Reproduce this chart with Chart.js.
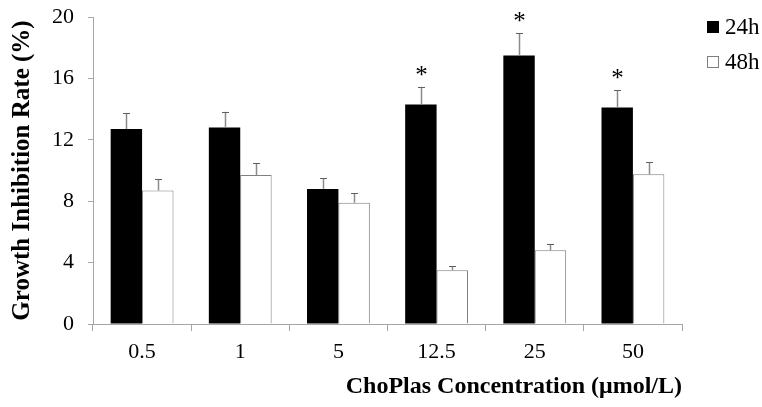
<!DOCTYPE html>
<html>
<head>
<meta charset="utf-8">
<script src="https://cdn.jsdelivr.net/npm/chart.js@4/dist/chart.umd.min.js"></script>
<style>
  html, body { margin: 0; padding: 0; background: #fff; }
  #wrap { width: 762px; height: 407px; position: relative; }
</style>
</head>
<body>
<div id="wrap"><canvas id="c"></canvas></div>
<script>
const categories = ['0.5', '1', '5', '12.5', '25', '50'];
const seriesLabels = ['24h', '48h'];
const rate24 = [12.7, 12.8, 8.8, 14.3, 17.5, 14.1];
const rate48 = [8.7, 9.7, 7.9, 3.5, 4.8, 9.75];
const err24 = [1.03, 1.02, 0.7, 1.15, 1.44, 1.13];
const err48 = [0.72, 0.78, 0.63, 0.28, 0.41, 0.78];
const sig24 = [false, false, false, true, true, true];
const yTicks = [0, 4, 8, 12, 16, 20];

const SERIF = '"Liberation Serif", "Times New Roman", serif';
const AXIS = '#a6a6a6';

const errorBarPlugin = {
  id: 'errorBars',
  afterDatasetsDraw(chart) {
    const ctx = chart.ctx;
    const y = chart.scales.y;
    const errs = [err24, err48];
    ctx.save();
    chart.data.datasets.forEach((ds, di) => {
      const meta = chart.getDatasetMeta(di);
      meta.data.forEach((bar, i) => {
        const v = ds.data[i];
        const top = y.getPixelForValue(v + errs[di][i]);
        const base = y.getPixelForValue(v);
        const x = Math.round(bar.x) + 0.5;
        ctx.strokeStyle = '#8a8a8a';
        ctx.lineWidth = 1.5;
        ctx.beginPath();
        ctx.moveTo(x, base);
        ctx.lineTo(x, top);
        ctx.stroke();
        ctx.strokeStyle = '#606060';
        ctx.lineWidth = 1;
        ctx.beginPath();
        ctx.moveTo(x - 3.5, Math.round(top) + 0.5);
        ctx.lineTo(x + 3.5, Math.round(top) + 0.5);
        ctx.stroke();
        if (di === 0 && sig24[i]) {
          ctx.fillStyle = '#000';
          ctx.font = '25px ' + SERIF;
          ctx.textAlign = 'center';
          ctx.textBaseline = 'alphabetic';
          ctx.fillText('*', x, top - 4);
        }
      });
    });
    ctx.restore();
  }
};

const legendPlugin = {
  id: 'sideLegend',
  afterDraw(chart) {
    const ctx = chart.ctx;
    const x0 = chart.chartArea.right + 25;
    ctx.save();
    chart.data.datasets.forEach((ds, i) => {
      const cy = 27 + i * 35;
      ctx.fillStyle = ds.backgroundColor;
      ctx.fillRect(x0, cy - 6, 12, 12);
      if (ds.borderWidth) {
        ctx.strokeStyle = ds.borderColor;
        ctx.lineWidth = 1;
        ctx.strokeRect(x0 + 0.5, cy - 5.5, 11, 11);
      }
      ctx.fillStyle = '#000';
      ctx.font = '23px ' + SERIF;
      ctx.textAlign = 'left';
      ctx.textBaseline = 'middle';
      ctx.fillText(ds.label, x0 + 18, cy + 1);
    });
    ctx.restore();
  }
};

new Chart(document.getElementById('c'), {
  type: 'bar',
  data: {
    labels: categories,
    datasets: [
      { label: seriesLabels[0], data: rate24, backgroundColor: '#000000', borderColor: '#000000', borderWidth: 0 },
      { label: seriesLabels[1], data: rate48, backgroundColor: '#ffffff', borderColor: '#7f7f7f', borderWidth: 1 }
    ]
  },
  options: {
    responsive: true,
    maintainAspectRatio: false,
    animation: false,
    devicePixelRatio: 1,
    layout: { padding: { top: 17, right: 80, bottom: 0, left: 0 } },
    datasets: { bar: { categoryPercentage: 0.64, barPercentage: 1.0 } },
    plugins: {
      tooltip: { enabled: false },
      legend: { display: false }
    },
    scales: {
      x: {
        grid: { display: true, drawOnChartArea: false, drawTicks: true, tickLength: 7, color: AXIS, offset: true },
        border: { display: true, color: AXIS, width: 1 },
        ticks: { color: '#000', font: { family: SERIF, size: 22 }, padding: 8 },
        title: {
          display: true,
          text: 'ChoPlas Concentration (μmol/L)',
          align: 'end',
          color: '#000',
          font: { family: SERIF, size: 24, weight: 'bold' },
          padding: { top: 10, bottom: 6 }
        },
        afterFit(scale) { scale.height = 83; scale.paddingLeft = 0; scale.paddingRight = 0; }
      },
      y: {
        min: 0,
        max: 20,
        afterBuildTicks(scale) { scale.ticks = yTicks.map(v => ({ value: v })); },
        grid: { display: true, drawOnChartArea: false, drawTicks: true, tickLength: 5, color: AXIS },
        border: { display: true, color: AXIS, width: 1 },
        ticks: { color: '#000', font: { family: SERIF, size: 22 }, padding: 14 },
        title: {
          display: true,
          text: 'Growth Inhibition Rate (%)',
          color: '#000',
          font: { family: SERIF, size: 25, weight: 'bold' },
          padding: { top: 8, bottom: 0 }
        },
        afterFit(scale) { scale.width = 93; scale.paddingTop = 0; scale.paddingBottom = 0; }
      }
    }
  },
  plugins: [errorBarPlugin, legendPlugin]
});
</script>
</body>
</html>
